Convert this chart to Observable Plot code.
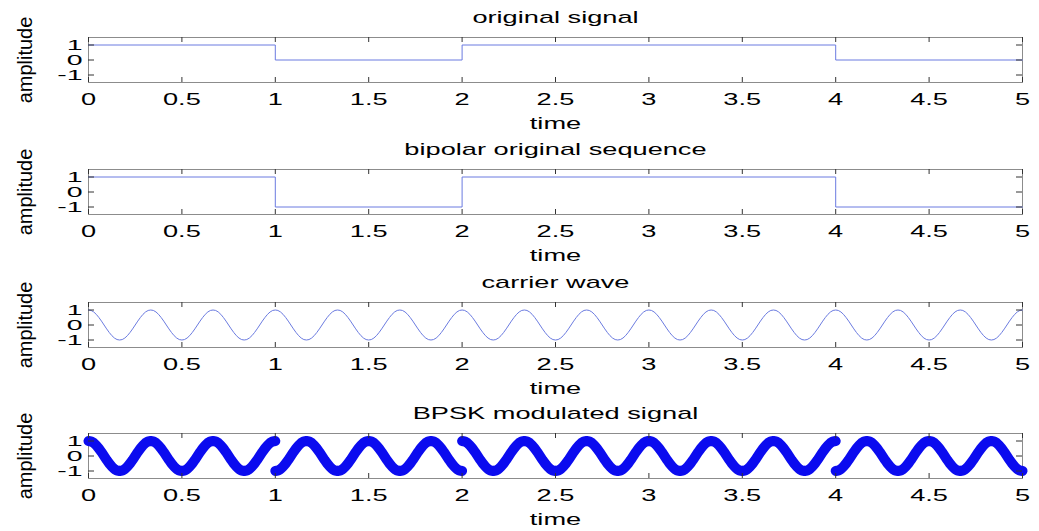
<!DOCTYPE html>
<html><head><meta charset="utf-8">
<script src="https://cdn.jsdelivr.net/npm/d3@7"></script>
<script src="https://cdn.jsdelivr.net/npm/@observablehq/plot@0.6"></script>
<style>
html,body{margin:0;padding:0;background:#fff;}
#chart{position:relative;width:1039px;height:531px;overflow:hidden;background:#fff;}
#chart svg{position:absolute;left:0;overflow:visible;}
</style></head><body><div id="chart"></div>
<script>
// ---- data ----
const titles = ["original signal", "bipolar original sequence", "carrier wave", "BPSK modulated signal"];
const xLabel = "time";
const yLabel = "amplitude";
const bitStarts = [0, 1, 2, 3, 4];
const bitEnd = 5;
const bits = [1, 0, 1, 1, 0];
const bipolar = [1, -1, 1, 1, -1];
const carrierCycle = [1, 0.97, 0.87, 0.71, 0.5, 0.26, 0, -0.26, -0.5, -0.71, -0.87, -0.97,
                      -1, -0.97, -0.87, -0.71, -0.5, -0.26, 0, 0.26, 0.5, 0.71, 0.87, 0.97];
const cyclesPerBit = 3;
const xTicks = [0, 0.5, 1, 1.5, 2, 2.5, 3, 3.5, 4, 4.5, 5];
const yTicks = [-1, 0, 1];
const xDomain = [0, 5];
const yDomain = [-1.5, 1.5];

// ---- tables built from the arrays ----
const stepOriginal = bits.map((b, i) => ({t: bitStarts[i], v: b})).concat([{t: bitEnd, v: bits[bits.length - 1]}]);
const stepBipolar = bipolar.map((b, i) => ({t: bitStarts[i], v: b})).concat([{t: bitEnd, v: bipolar[bipolar.length - 1]}]);
const nPerBit = carrierCycle.length * cyclesPerBit;
const carrier = [];
bitStarts.forEach(s => {
  for (let k = 0; k < nPerBit; k++) carrier.push({t: s + k / nPerBit, v: carrierCycle[k % carrierCycle.length]});
});
carrier.push({t: bitEnd, v: carrierCycle[0]});
const bpsk = [];
bitStarts.forEach((s, i) => {
  for (let k = 0; k <= nPerBit; k++) bpsk.push({t: s + k / nPerBit, v: bipolar[i] * carrierCycle[k % carrierCycle.length], bit: i});
});

const W = 1039, mL = 88, mR = 17, mT = 37, boxH = 45;
const boxW = W - mL - mR;
const tops = [0, 132, 265, 396];
const heights = [132, 132, 132, 135];
const thin = "#6b7be0";

const dataMarks = [
  [Plot.line(stepOriginal, {x: "t", y: "v", curve: "step-after", stroke: thin, strokeWidth: 1})],
  [Plot.line(stepBipolar, {x: "t", y: "v", curve: "step-after", stroke: thin, strokeWidth: 1})],
  [Plot.line(carrier, {x: "t", y: "v", stroke: thin, strokeWidth: 1})],
  [Plot.line(bpsk, {x: "t", y: "v", z: "bit", stroke: "#0b0bef", strokeWidth: 10, strokeLinecap: "round", strokeLinejoin: "round"})]
];

function stretchTexts(svg) {
  svg.querySelectorAll("text").forEach(t => {
    if (t.textContent.trim() === yLabel) return;
    const isYTick = t.closest('[aria-label="y-axis tick label"]');
    const sx = isYTick ? 1.9 : 1.7;
    const g = document.createElementNS("http://www.w3.org/2000/svg", "g");
    t.parentNode.insertBefore(g, t);
    g.appendChild(t);
    const b = g.getBBox();
    const anchor = getComputedStyle(t).textAnchor;
    const cx = anchor === "end" ? b.x + b.width : anchor === "start" ? b.x : b.x + b.width / 2;
    g.setAttribute("transform", `translate(${cx},0) scale(${sx},1) translate(${-cx},0)`);
  });
}

const chart = document.getElementById("chart");
titles.forEach((title, i) => {
  const h = heights[i];
  const svg = Plot.plot({
    width: W, height: h,
    marginLeft: mL, marginRight: mR, marginTop: mT, marginBottom: h - mT - boxH,
    style: {fontFamily: "'Liberation Sans', Arial, Helvetica, sans-serif", fontSize: "16px", color: "#000", background: "transparent", overflow: "visible"},
    x: {domain: xDomain},
    y: {domain: yDomain},
    marks: [
      Plot.frame({stroke: "#8c8c8c", strokeWidth: 1}),
      ...dataMarks[i],
      Plot.tickX(xTicks, {x: d => d, insetTop: boxH - 5, stroke: "#333", strokeWidth: 1}),
      Plot.tickX(xTicks, {x: d => d, insetBottom: boxH - 5, stroke: "#333", strokeWidth: 1}),
      Plot.tickY(yTicks, {y: d => d, insetRight: boxW - 6, stroke: "#333", strokeWidth: 1}),
      Plot.tickY(yTicks, {y: d => d, insetLeft: boxW - 6, stroke: "#333", strokeWidth: 1}),
      Plot.axisX({ticks: xTicks, tickSize: 0, tickPadding: 11, tickFormat: d => String(d), label: null, fontSize: 16}),
      Plot.axisY({ticks: yTicks, tickSize: 0, tickPadding: 6, tickFormat: d => String(d), label: null, fontSize: 15}),
      Plot.text([title], {frameAnchor: "top", dy: -20, fontSize: 16, lineAnchor: "middle", fill: "#000"}),
      Plot.text([xLabel], {frameAnchor: "bottom", dy: 41, fontSize: 16, lineAnchor: "middle", fill: "#000"}),
      Plot.text([yLabel], {frameAnchor: "left", dx: -63, rotate: -90, fontSize: 20, lineAnchor: "middle", textAnchor: "middle", fill: "#000"})
    ]
  });
  svg.style.top = tops[i] + "px";
  chart.appendChild(svg);
  stretchTexts(svg);
});
</script></body></html>
